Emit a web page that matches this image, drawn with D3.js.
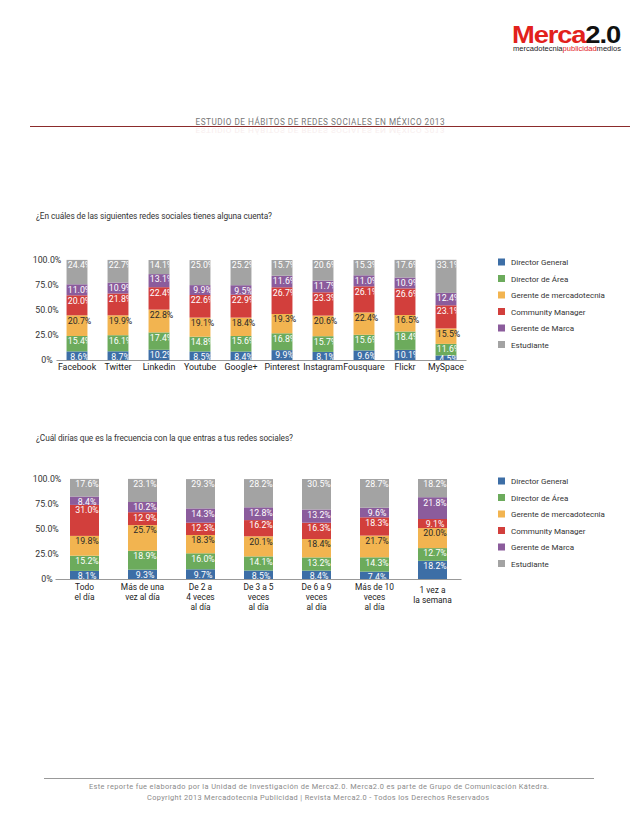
<!DOCTYPE html>
<html><head><meta charset="utf-8">
<script src="https://cdn.jsdelivr.net/npm/d3@7"></script>
<style>
html,body{margin:0;padding:0;background:#fff;}
svg{display:block;font-family:Roboto, "DejaVu Sans", sans-serif;}
</style></head>
<body>
<svg id="c" width="638" height="826"></svg>
<script>
// ---------- DATA ----------
const seriesNames = ["Director General","Director de Área","Gerente de mercadotecnia","Community Manager","Gerente de Marca","Estudiante"];
const seriesColors = ["#3d6ea6","#6cab5c","#f2b450","#d23f3c","#8b5c9c","#a3a3a3"];

const redes = ["Facebook","Twitter","Linkedin","Youtube","Google+","Pinterest","Instagram","Fousquare","Flickr","MySpace"];
const c1DirectorGeneral = [8.6, 8.7, 10.2, 8.5, 8.4, 9.9, 8.1, 9.6, 10.1, 4.5];
const c1DirectorArea    = [15.4, 16.1, 17.4, 14.8, 15.6, 16.8, 15.7, 15.6, 18.4, 11.6];
const c1GerenteMerca    = [20.7, 19.9, 22.8, 19.1, 18.4, 19.3, 20.6, 22.4, 16.5, 15.5];
const c1Community       = [20.0, 21.8, 22.4, 22.6, 22.9, 26.7, 23.3, 26.1, 26.6, 23.1];
const c1GerenteMarca    = [11.0, 10.9, 13.1, 9.9, 9.5, 11.6, 11.7, 11.0, 10.9, 12.4];
const c1Estudiante      = [24.4, 22.7, 14.1, 25.0, 25.2, 15.7, 20.6, 15.3, 17.6, 33.1];

const frecuencias = [["Todo","el día"],["Más de una","vez al día"],["De 2 a","4 veces","al día"],["De 3 a 5","veces","al día"],["De 6 a 9","veces","al día"],["Más de 10","veces","al día"],["1 vez a","la semana"]];
const c2DirectorGeneral = [8.1, 9.3, 9.7, 8.5, 8.4, 7.4, 18.2];
const c2DirectorArea    = [15.2, 18.9, 16.0, 14.1, 13.2, 14.3, 12.7];
const c2GerenteMerca    = [19.8, 25.7, 18.3, 20.1, 18.4, 21.7, 20.0];
const c2Community       = [31.0, 12.9, 12.3, 16.2, 16.3, 18.3, 9.1];
const c2GerenteMarca    = [8.4, 10.2, 14.3, 12.8, 13.2, 9.6, 21.8];
const c2Estudiante      = [17.6, 23.1, 29.3, 28.2, 30.5, 28.7, 18.2];

const tickValues = [0, 25, 50, 75, 100];
const tickLabels = ["0%", "25.0%", "50.0%", "75.0%", "100.0%"];

const titleText = "ESTUDIO DE HÁBITOS DE REDES SOCIALES EN MÉXICO 2013";
const q1 = "¿En cuáles de las siguientes redes sociales tienes alguna cuenta?";
const q2 = "¿Cuál dirías que es la frecuencia con la que entras a tus redes sociales?";
const footer1 = "Este reporte fue elaborado por la Unidad de Investigación de Merca2.0. Merca2.0 es parte de Grupo de Comunicación Kátedra.";
const footer2 = "Copyright 2013 Mercadotecnia Publicidad | Revista Merca2.0 - Todos los Derechos Reservados";

// ---------- DRAW ----------
const svg = d3.select("#c");
svg.append("rect").attr("width",638).attr("height",826).attr("fill","#fff");

// Logo
const logo = svg.append("text").attr("x",512).attr("y",42.5)
  .attr("font-family","'Liberation Sans', Arial, sans-serif").attr("font-weight","bold")
  .attr("font-size",24).attr("letter-spacing",-1).attr("textLength",108).attr("lengthAdjust","spacingAndGlyphs");
logo.append("tspan").attr("fill","#e2211c").text("Merca");
logo.append("tspan").attr("fill","#111").text("2.0");
const sub = svg.append("text").attr("x",513).attr("y",50.5)
  .attr("font-family","'Liberation Sans', Arial, sans-serif").attr("font-size",6.4)
  .attr("textLength",108).attr("lengthAdjust","spacingAndGlyphs");
sub.append("tspan").attr("fill","#222").text("mercadotecnia");
sub.append("tspan").attr("fill","#e2211c").text("publicidad");
sub.append("tspan").attr("fill","#222").text("medios");

// Header
svg.append("line").attr("x1",30).attr("x2",630).attr("y1",126.5).attr("y2",126.5)
  .attr("stroke","#8b2b2b").attr("stroke-width",1);
svg.append("text").attr("x",320).attr("y",125).attr("text-anchor","middle")
  .attr("font-size",8.2).attr("fill","#777").attr("textLength",249).attr("lengthAdjust","spacing")
  .text(titleText);
// faint reflection below the header line
svg.append("text").attr("transform","translate(320,127.5) scale(1,-0.8)").attr("text-anchor","middle")
  .attr("font-size",8.2).attr("fill","#f7eeee").attr("textLength",249).attr("lengthAdjust","spacing")
  .attr("y",-1).text(titleText);

// Questions
svg.append("text").attr("x",36).attr("y",219).attr("font-size",8.3).attr("fill","#333")
  .attr("textLength",236).attr("lengthAdjust","spacing").text(q1);
svg.append("text").attr("x",36).attr("y",441).attr("font-size",8.3).attr("fill","#333")
  .attr("textLength",257).attr("lengthAdjust","spacing").text(q2);

// Footer
svg.append("line").attr("x1",44).attr("x2",594).attr("y1",778.5).attr("y2",778.5)
  .attr("stroke","#999").attr("stroke-width",1);
svg.append("text").attr("x",319).attr("y",789).attr("text-anchor","middle").attr("font-size",7.4)
  .attr("fill","#8a8a8a").attr("textLength",460).attr("lengthAdjust","spacing").text(footer1);
svg.append("text").attr("x",318).attr("y",800).attr("text-anchor","middle").attr("font-size",7.4)
  .attr("fill","#8a8a8a").attr("textLength",342).attr("lengthAdjust","spacing").text(footer2);

function drawChart(cfg) {
  const {id, cats, cols, xRange, y0, y100, paddingInner, labelFn, legendY} = cfg;
  const n = cats.length;
  const rows = d3.range(n).map(i => {
    const o = {cat: i};
    seriesNames.forEach((s, j) => o[s] = cols[j][i]);
    return o;
  });
  const stack = d3.stack().keys(seriesNames)(rows);
  const x = d3.scaleBand().domain(d3.range(n)).range(xRange)
    .paddingInner(paddingInner).paddingOuter(paddingInner / 2);
  const y = d3.scaleLinear().domain([0, 100]).range([y0, y100]);
  const g = svg.append("g");

  // y ticks (labels only)
  const yAxis = d3.axisLeft(y).tickValues(tickValues).tickFormat((d, i) => tickLabels[i]).tickSize(0);
  const ya = g.append("g").attr("transform", `translate(${xRange[0]},0)`).call(yAxis);
  ya.select(".domain").remove();
  ya.selectAll("text").attr("text-anchor","middle").attr("x", 47 - xRange[0])
    .attr("font-size", 8.8).attr("fill","#333").attr("font-family","Roboto, sans-serif");

  // clip paths per bar
  const defs = svg.append("defs");
  d3.range(n).forEach(i => {
    defs.append("clipPath").attr("id", `${id}clip${i}`)
      .append("rect").attr("x", x(i)).attr("width", x.bandwidth())
      .attr("y", y(105)).attr("height", y(0) - y(105));
  });

  // bars
  stack.forEach((layer, j) => {
    g.append("g").selectAll("rect").data(layer).join("rect")
      .attr("x", (d, i) => x(i)).attr("width", x.bandwidth())
      .attr("y", d => y(d[1])).attr("height", d => y(d[0]) - y(d[1]))
      .attr("fill", seriesColors[j]);
  });
  // labels
  stack.forEach((layer, j) => {
    const isOrange = j === 2;
    layer.forEach((d, i) => {
      const t = g.append("text")
        .attr("x", x(i) + x.bandwidth() / 2 + 2.5)
        .attr("y", Math.min(y(d[1]) + 8.3, y0 + 1.5))
        .attr("text-anchor","middle").attr("font-size", 8.8)
        .attr("fill", isOrange ? "#2a2a2a" : "#ffffff")
        .text(d3.format(".1f")(d[1] - d[0]) + "%");
      if (!isOrange) t.attr("clip-path", `url(#${id}clip${i})`);
    });
  });

  // baseline
  g.append("line").attr("x1", xRange[0]).attr("x2", xRange[1]).attr("y1", y0 + 0.5).attr("y2", y0 + 0.5)
    .attr("stroke","#999").attr("stroke-width",1);

  // category labels
  labelFn(g, x, y0);

  // legend
  const lg = g.append("g").attr("transform", `translate(498,${legendY})`);
  seriesNames.forEach((s, j) => {
    lg.append("rect").attr("x", 0).attr("y", j * 16.5 - 3.5).attr("width", 7).attr("height", 7).attr("fill", seriesColors[j]);
    lg.append("text").attr("x", 13).attr("y", j * 16.5 + 3).attr("font-size", 8).attr("fill","#333").text(s);
  });
}

drawChart({
  id: "a", cats: redes,
  cols: [c1DirectorGeneral, c1DirectorArea, c1GerenteMerca, c1Community, c1GerenteMarca, c1Estudiante],
  xRange: [56.5, 466.5], y0: 360, y100: 260, paddingInner: 0.49, legendY: 262,
  labelFn: (g, x, y0) => {
    g.append("g").selectAll("text").data(redes).join("text")
      .attr("x", (d, i) => x(i) + x.bandwidth() / 2).attr("y", y0 + 9.5)
      .attr("text-anchor","middle").attr("font-size", 8.8).attr("fill","#222").text(d => d);
  }
});

drawChart({
  id: "b", cats: frecuencias,
  cols: [c2DirectorGeneral, c2DirectorArea, c2GerenteMerca, c2Community, c2GerenteMarca, c2Estudiante],
  xRange: [55.5, 461.5], y0: 579, y100: 479, paddingInner: 0.5, legendY: 481,
  labelFn: (g, x, y0) => {
    frecuencias.forEach((lines, i) => {
      const off = i === 6 ? 3 : 0;
      lines.forEach((ln, k) => {
        g.append("text").attr("x", x(i) + x.bandwidth() / 2).attr("y", y0 + 11 + off + k * 9.8)
          .attr("text-anchor","middle").attr("font-size", 8.4).attr("fill","#222").text(ln);
      });
    });
  }
});
</script>
</body></html>
